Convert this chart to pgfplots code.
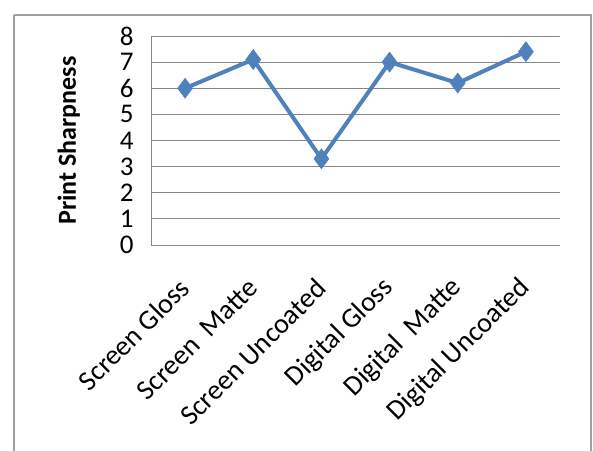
\documentclass[border=0pt]{standalone}
\usepackage{pgfplots}
\pgfplotsset{compat=1.18}
\usepackage{fontspec}
\setmainfont{Carlito}
\definecolor{xlblue}{HTML}{4F81BD}
\definecolor{gridgray}{HTML}{878787}
\begin{document}
\begin{tikzpicture}[x=1pt,y=1pt]
\clip (0,0) rectangle (593,450);
\useasboundingbox (0,0) rectangle (593,450);
\fill[white] (0,0) rectangle (593,450);
\draw[gridgray!80, line width=1.5pt] (14,435) -- (14,-20);
\draw[gridgray!80, line width=1.5pt] (14,435) -- (591,435) -- (591,-20);
\begin{axis}[
  at={(151pt,205pt)}, anchor=south west,
  scale only axis, width=409pt, height=209pt,
  xmin=-0.5, xmax=5.5, ymin=0, ymax=8,
  axis x line=bottom, axis y line=left,
  axis line style={gridgray, line width=1pt, -},
  xtick=data,
  xticklabels={Screen Gloss, Screen\ \ Matte, Screen Uncoated, Digital Gloss, Digital\ \ Matte, Digital Uncoated},
  ytick={0,1,...,8},
  major tick length=0pt,
  ymajorgrids, grid style={gridgray, line width=0.8pt},
  /pgf/number format/assume math mode=true,
  tick label style={font=\fontsize{27}{29}\selectfont, black},
  xticklabel style={font=\fontsize{28}{30}\selectfont, rotate=45, anchor=east, xshift=-24pt, yshift=-27pt},
  yticklabel style={xshift=-14pt},
  ylabel={\bfseries Print Sharpness},
  ylabel style={font=\fontsize{26}{28}\selectfont, yshift=33pt},
]
\addplot[xlblue, line width=4pt, mark=diamond*, mark size=10pt, mark options={solid, fill=xlblue, line width=0.5pt}]
  coordinates {(0,6.0) (1,7.1) (2,3.3) (3,7.0) (4,6.2) (5,7.4)};
\end{axis}
\end{tikzpicture}
\end{document}
